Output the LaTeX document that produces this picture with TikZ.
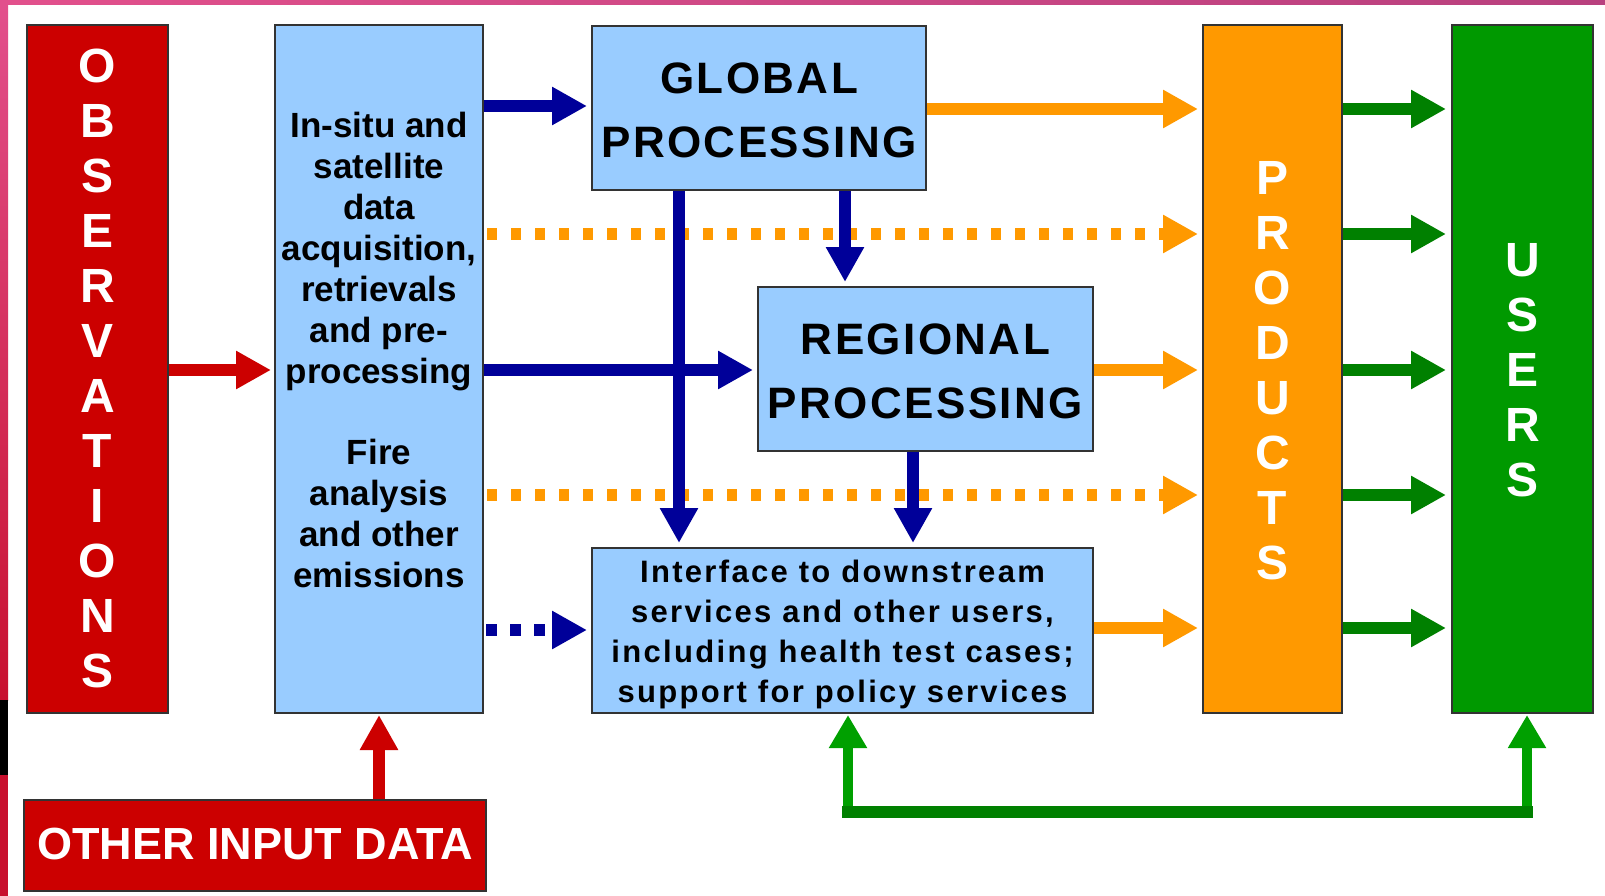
\documentclass[tikz,border=0pt]{standalone}
\usepackage{fontspec}
\setmainfont{Liberation Sans}
\newfontfamily\gfont{Liberation Sans}[LetterSpace=5.5]
\newfontfamily\ifont{Liberation Sans}[LetterSpace=7.5]
\usetikzlibrary{arrows.meta}
\definecolor{obsred}{HTML}{CC0000}
\definecolor{lblue}{HTML}{99CCFF}
\definecolor{navy}{HTML}{000099}
\definecolor{orng}{HTML}{FF9900}
\definecolor{ugreen}{HTML}{009900}
\definecolor{dgreen}{HTML}{008000}
\definecolor{fgreen}{HTML}{00A000}
\definecolor{pinkA}{HTML}{E2508C}
\definecolor{pinkB}{HTML}{B8407E}
\definecolor{stripred}{HTML}{C8102E}
\begin{document}
\begin{tikzpicture}[x=1pt,y=-1pt,
  box/.style={draw=black!80, line width=2pt, inner sep=0pt},
  vlet/.style={white, align=center, inner sep=0pt, font=\fontsize{48}{55}\selectfont\bfseries},
  btxt/.style={align=center, inner sep=0pt, font=\fontsize{35}{41}\selectfont\bfseries},
  gtxt/.style={align=center, inner sep=0pt, font=\gfont\fontsize{44}{64}\selectfont\bfseries},
  itxt/.style={align=center, inner sep=0pt, font=\ifont\fontsize{31}{40.3}\selectfont\bfseries},
  arrtip/.style={-{Triangle[length=35pt,width=36pt]}},
  redarr/.style={obsred, line width=12pt, arrtip},
  bluearr/.style={navy, line width=12pt, arrtip},
  orarr/.style={orng, line width=12pt, arrtip},
  grarr/.style={dgreen, line width=12pt, arrtip},
  orgdot/.style={orng, line width=12pt, dash pattern=on 10pt off 14pt, arrtip},
  bludot/.style={navy, line width=12pt, dash pattern=on 11pt off 13pt, arrtip},
  fbarr/.style={fgreen, line width=10pt, -{Triangle[length=33pt,width=36pt]}},
]
\useasboundingbox (0,0) rectangle (1605,896);
% background
\shade[left color=pinkA, right color=pinkB] (0,0) rectangle (1605,5);
\fill[white] (8,5) rectangle (1605,896);
\shade[top color=pinkA, bottom color=stripred] (0,5) rectangle (8,700);
\fill[black] (0,700) rectangle (8,775);
\fill[stripred] (0,775) rectangle (8,896);

% boxes
\node[box, fill=obsred, minimum width=141pt, minimum height=688pt] (obs) at (97.5,369) {};
\node[vlet] (tobs) at (97.5,368) {O\\B\\S\\E\\R\\V\\A\\T\\I\\O\\N\\S};
\node[box, fill=lblue, minimum width=208pt, minimum height=688pt] (input) at (379,369) {};
\node[btxt] (tin1) at (379,251.6) {In-situ and\\satellite\\data\\acquisition,\\retrievals\\and pre-\\processing};
\node[btxt] (tin2) at (379,513.5) {Fire\\analysis\\and other\\emissions};
\node[box, fill=obsred, minimum width=462pt, minimum height=91pt] (other) at (255,845.5) {};
\node[white, inner sep=0pt, font=\fontsize{45}{54}\selectfont\bfseries] (tother) at (255,843.5) {OTHER INPUT DATA};
\node[box, fill=lblue, minimum width=334pt, minimum height=164pt] (global) at (759,108) {};
\node[gtxt] (tglobal) at (759,110.5) {GLOBAL\\PROCESSING};
\node[box, fill=lblue, minimum width=335pt, minimum height=164pt] (regional) at (925.5,369) {};
\node[gtxt] (tregional) at (925.5,371.5) {REGIONAL\\PROCESSING};
\node[box, fill=lblue, minimum width=501pt, minimum height=165pt] (iface) at (842.5,630.5) {};
\node[itxt] (tiface) at (842.5,634.5) {Interface to downstream\\services and other users,\\including health test cases;\\support for policy services};
\node[box, fill=orng, minimum width=139pt, minimum height=688pt] (products) at (1272.5,369) {};
\node[vlet] (tprod) at (1272.5,371) {P\\R\\O\\D\\U\\C\\T\\S};
\node[box, fill=ugreen, minimum width=141pt, minimum height=688pt] (users) at (1522.5,369) {};
\node[vlet] (tusers) at (1522.5,370) {U\\S\\E\\R\\S};

% row / column coordinates
\coordinate (r1b) at (0,106);
\coordinate (r1) at (0,109);
\coordinate (r2) at (0,234);
\coordinate (r3) at (0,370);
\coordinate (r4) at (0,495);
\coordinate (r5b) at (0,630);
\coordinate (r5) at (0,628);
\coordinate (c1) at (679,0);
\coordinate (c2) at (845,0);
\coordinate (c3) at (913,0);
\coordinate (fbL) at (848,812);
\coordinate (fbR) at (1527,812);

% red inputs
\draw[redarr, shorten >=3pt] (obs.east |- r3) -- (input.west |- r3);
\draw[redarr, shorten >=1pt] (other.north -| input) -- (input.south);

% orange dotted
\draw[orgdot, shorten <=3pt, shorten >=4pt] (input.east |- r2) -- (products.west |- r2);
\draw[orgdot, shorten <=3pt, shorten >=4pt] (input.east |- r4) -- (products.west |- r4);

% blue
\draw[bluearr, shorten >=4pt] (input.east |- r1b) -- (global.west |- r1b);
\draw[bluearr, shorten >=4pt] (input.east |- r3) -- (regional.west |- r3);
\draw[bluearr, shorten >=4pt] (global.south -| c1) -- (iface.north -| c1);
\draw[bluearr, shorten >=4pt] (global.south -| c2) -- (regional.north -| c2);
\draw[bluearr, shorten >=4pt] (regional.south -| c3) -- (iface.north -| c3);
\draw[bludot, shorten <=2pt, shorten >=4pt] (input.east |- r5b) -- (iface.west |- r5b);

% orange to products
\draw[orarr, shorten >=4pt] (global.east |- r1) -- (products.west |- r1);
\draw[orarr, shorten >=4pt] (regional.east |- r3) -- (products.west |- r3);
\draw[orarr, shorten >=4pt] (iface.east |- r5) -- (products.west |- r5);

% green to users
\foreach \r in {r1,r2,r3,r4,r5}
  \draw[grarr, shorten >=5pt] (products.east |- \r) -- (users.west |- \r);

% feedback
\draw[fbarr, shorten >=1pt] (fbL) -- (iface.south -| fbL);
\draw[fbarr, shorten >=1pt] (fbR) -- (users.south -| fbR);
\draw[dgreen, line width=12pt, line cap=rect] (fbL) -- (fbR);
\end{tikzpicture}
\end{document}
